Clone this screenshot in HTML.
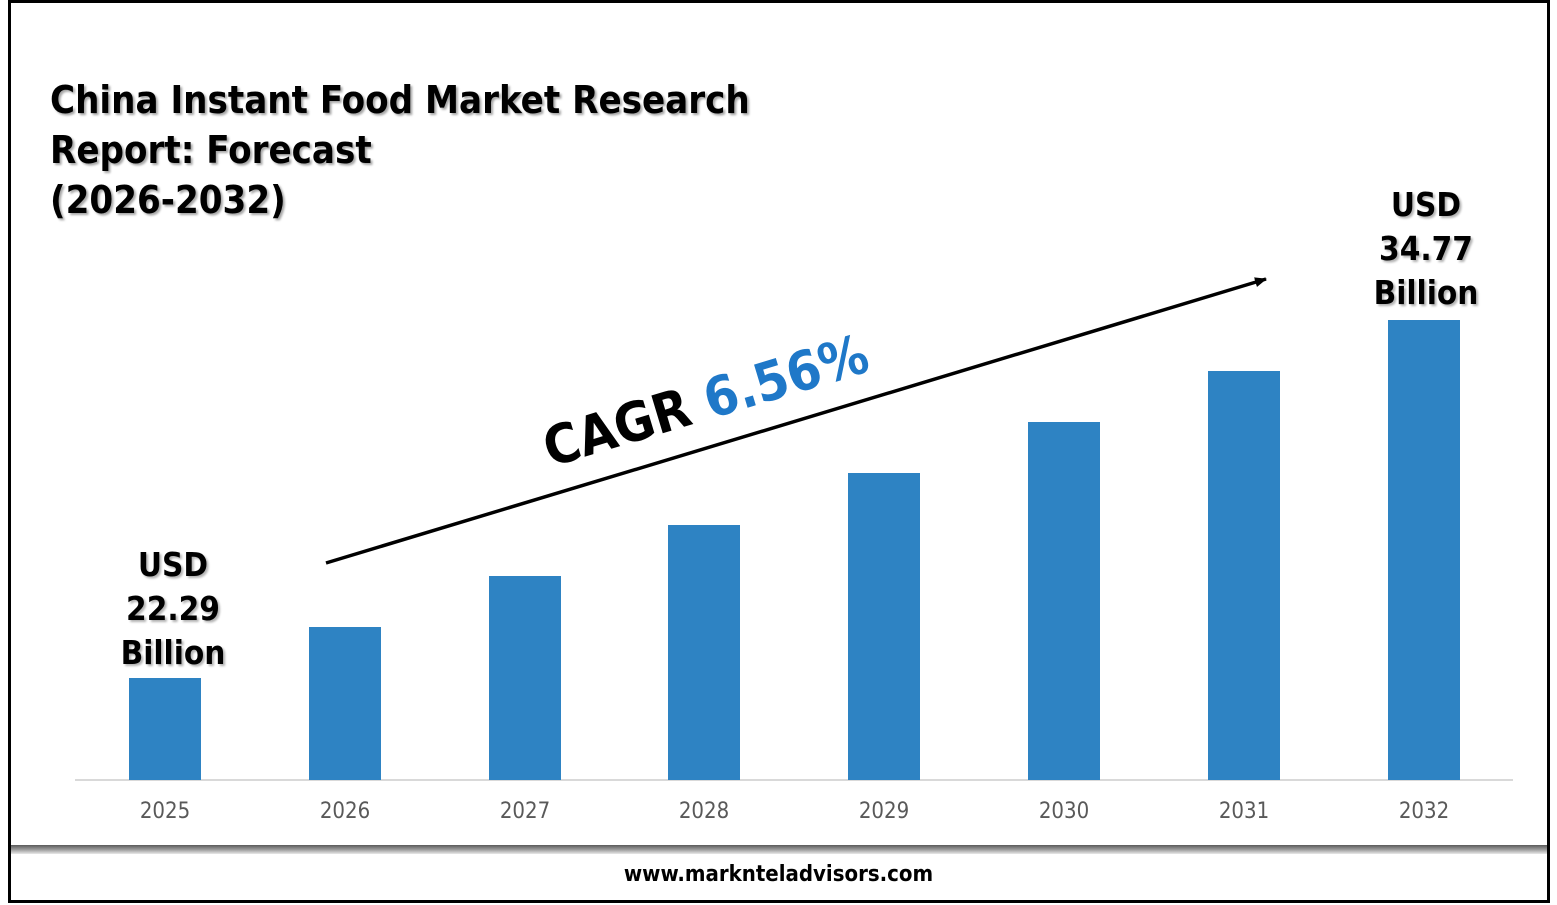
<!DOCTYPE html>
<html><head><meta charset="utf-8"><style>
body{margin:0;width:1557px;height:905px;background:#fff;overflow:hidden;position:relative;font-family:"DejaVu Sans","Liberation Sans",sans-serif}
.frame{position:absolute;left:8px;top:0;width:1536px;height:897px;border:3px solid #000;}
.bar{position:absolute;width:72px;background:#2e83c3;bottom:125px}
.yr{position:absolute;top:799px;width:100px;text-align:center;font-size:22px;color:#595959;font-family:"DejaVu Sans Condensed","DejaVu Sans",sans-serif}
.t{position:absolute;font-weight:bold;color:#000;text-shadow:2px 2px 2px rgba(0,0,0,.35)}
.lbl{position:absolute;font-weight:bold;font-size:33px;line-height:44px;text-align:center;width:160px;text-shadow:2px 2px 2px rgba(0,0,0,.3);font-family:"DejaVu Sans Condensed","DejaVu Sans",sans-serif}
</style></head><body>
<div class="frame"></div>
<div style="position:absolute;left:11px;top:845px;width:1536px;height:9px;background:linear-gradient(#5a5a5a,#9a9a9a,#e8e8e8)"></div>
<div class="t" style="left:50px;top:75px;font-size:38px;line-height:50px;font-family:'DejaVu Sans Condensed','DejaVu Sans',sans-serif">China Instant Food Market Research<br>Report: Forecast<br>(2026-2032)</div>
<div style="position:absolute;left:75px;top:779px;width:1438px;height:2px;background:#d9d9d9"></div>
<div class="bar" style="left:129px;top:678px"></div>
<div class="bar" style="left:309px;top:627px"></div>
<div class="bar" style="left:489px;top:576px"></div>
<div class="bar" style="left:668px;top:525px"></div>
<div class="bar" style="left:848px;top:473px"></div>
<div class="bar" style="left:1028px;top:422px"></div>
<div class="bar" style="left:1208px;top:371px"></div>
<div class="bar" style="left:1388px;top:320px"></div>
<div class="yr" style="left:115px">2025</div>
<div class="yr" style="left:295px">2026</div>
<div class="yr" style="left:475px">2027</div>
<div class="yr" style="left:654px">2028</div>
<div class="yr" style="left:834px">2029</div>
<div class="yr" style="left:1014px">2030</div>
<div class="yr" style="left:1194px">2031</div>
<div class="yr" style="left:1374px">2032</div>
<div class="lbl" style="left:93px;top:543px">USD<br>22.29<br>Billion</div>
<div class="lbl" style="left:1346px;top:183px">USD<br>34.77<br>Billion</div>
<svg style="position:absolute;left:0;top:0" width="1557" height="905">
<defs><marker id="a" markerWidth="12" markerHeight="10" refX="11" refY="5" orient="auto" markerUnits="userSpaceOnUse" viewBox="0 0 12 10"><path d="M0,0L12,5L0,10z" fill="#000"/></marker></defs>
<line x1="326" y1="563" x2="1266" y2="279" stroke="#000" stroke-width="3.5" marker-end="url(#a)"/>
</svg>
<div style="position:absolute;left:545px;top:420px;transform-origin:0 50%;transform:rotate(-16.8deg);font-size:54px;font-weight:bold;white-space:nowrap;font-family:'DejaVu Sans Condensed','DejaVu Sans',sans-serif;line-height:60px">CAGR <span style="color:#1f78c8">6.56%</span></div>
<div style="position:absolute;left:0;width:1557px;top:862px;text-align:center;font-size:22px;font-weight:bold;font-family:'DejaVu Sans Condensed','DejaVu Sans',sans-serif">www.marknteladvisors.com</div>
</body></html>
